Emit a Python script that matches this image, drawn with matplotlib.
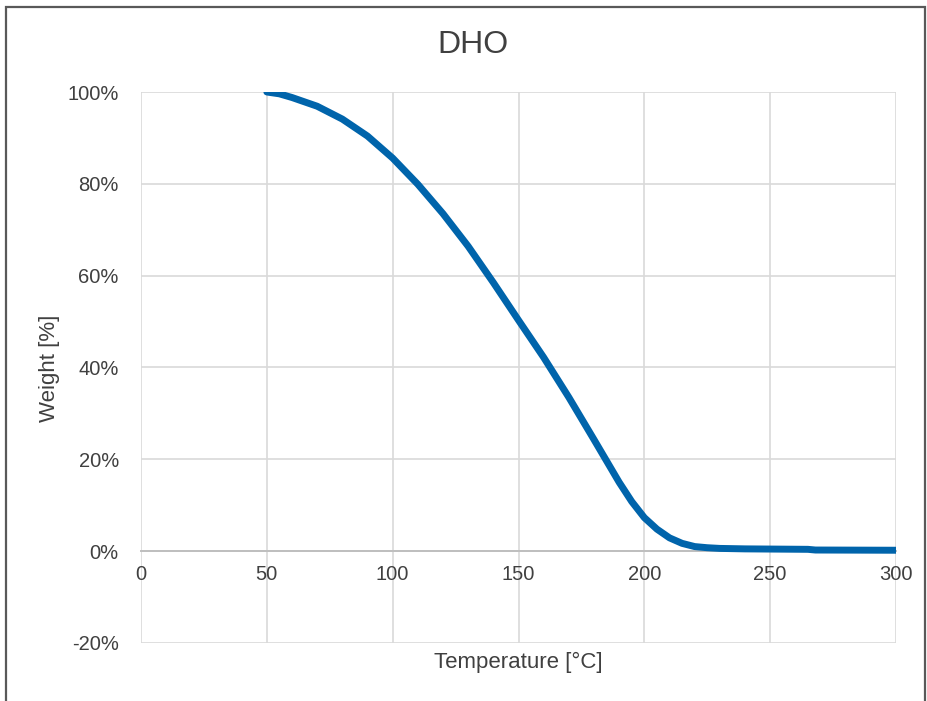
"""DHO weight loss curve (TGA), Excel-style look."""

import matplotlib

matplotlib.use("Agg")
import matplotlib.pyplot as plt
from matplotlib.patches import Rectangle
from matplotlib.ticker import FuncFormatter

# values
temperature = [50, 55, 60, 70, 80, 90, 100, 110, 120, 130, 140, 150, 160,
               170, 180, 190, 195, 200, 205, 210, 215, 220, 225, 230, 240,
               265, 268, 300]
weight = [1.000, 0.996, 0.988, 0.969, 0.941, 0.904, 0.856, 0.799, 0.735,
          0.664, 0.585, 0.503, 0.422, 0.335, 0.243, 0.150, 0.108, 0.073,
          0.048, 0.029, 0.017, 0.010, 0.0075, 0.006, 0.005, 0.004, 0.0025,
          0.002]

x_ticks = [0, 50, 100, 150, 200, 250, 300]
y_ticks = [-0.2, 0.0, 0.2, 0.4, 0.6, 0.8, 1.0]

plt.rcParams["font.family"] = ["Liberation Sans", "DejaVu Sans"]

fig = plt.figure(figsize=(9.28, 7.01), dpi=100)
ax = fig.add_axes([141 / 928, 1 - 643 / 701, (896 - 141) / 928, (643 - 92) / 701])

ax.plot(temperature, weight, color="#0064ab", lw=5.0, solid_capstyle="round",
        solid_joinstyle="round", zorder=3)

ax.set_xlim(0, 300)
ax.set_ylim(-0.2, 1.0)
ax.set_xticks(x_ticks)
ax.set_yticks(y_ticks)
ax.yaxis.set_major_formatter(FuncFormatter(lambda v, _: f"{v * 100:.0f}%"))
ax.grid(True, color="#d9d9d9", lw=1.2)
ax.set_axisbelow(True)

for side in ("top", "right", "left"):
    ax.spines[side].set_visible(False)
ax.spines["bottom"].set_position(("data", 0))
ax.spines["bottom"].set_color("#bfbfbf")
ax.spines["bottom"].set_linewidth(1.4)
ax.tick_params(length=0, labelsize=14.5, colors="#404040")
ax.tick_params(axis="x", pad=10)
ax.tick_params(axis="y", pad=16)

fig.text(473 / 928, 1 - 45 / 701, "DHO", ha="center", va="center",
         fontsize=23, color="#404040")
fig.text(518 / 928, 1 - 662 / 701, "Temperature [°C]", ha="center",
         va="center", fontsize=16, color="#404040")
fig.text(50 / 928, 1 - 368 / 701, "Weight [%]", ha="center", va="center",
         rotation=90, fontsize=16, color="#404040")

# outer chart frame (bottom edge runs off the image)
fig.patches.append(Rectangle((6 / 928, -0.1), (925 - 6) / 928, 1.1 - 7 / 701,
                             transform=fig.transFigure, fill=False,
                             edgecolor="#595959", lw=1.6))

fig.savefig("out.png", dpi=100)
plt.close(fig)
